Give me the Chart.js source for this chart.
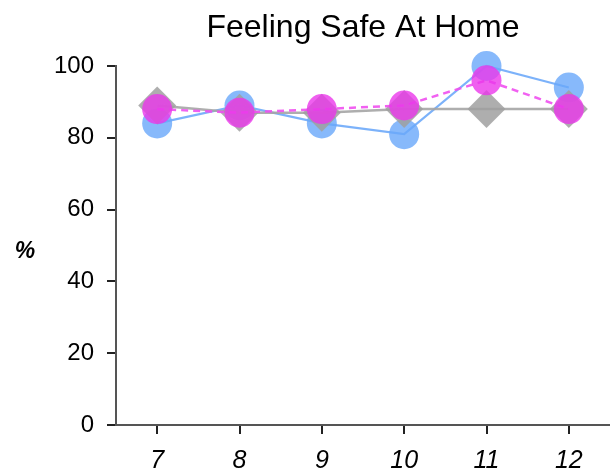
<!DOCTYPE html>
<html>
<head>
<meta charset="utf-8">
<script src="https://cdn.jsdelivr.net/npm/chart.js@4/dist/chart.umd.min.js"></script>
<style>
  html, body { margin: 0; padding: 0; background: #fff; }
  #wrap { width: 610px; height: 472px; }
</style>
</head>
<body>
<div id="wrap"><canvas id="c" width="610" height="472"></canvas></div>
<script>
const categories = ['7', '8', '9', '10', '11', '12'];
const blueValues = [84, 89, 84, 81, 100, 94];
const grayValues = [89, 87, 87, 88, 88, 88];
const magentaValues = [88, 87, 88, 89, 96, 88];
const yTicks = [0, 20, 40, 60, 80, 100];
const titleText = 'Feeling Safe At Home';
const yLabel = '%';

const FONT = '"Liberation Sans", Arial, Helvetica, sans-serif';

const yLabelPlugin = {
  id: 'yLabel',
  afterDraw(chart) {
    const ctx = chart.ctx;
    ctx.save();
    ctx.font = 'italic bold 23px ' + FONT;
    ctx.fillStyle = '#000';
    ctx.textAlign = 'center';
    ctx.textBaseline = 'middle';
    ctx.fillText(yLabel, 25, 252);
    ctx.restore();
  }
};

new Chart(document.getElementById('c'), {
  type: 'line',
  data: {
    labels: categories,
    datasets: [
      {
        label: 'blue',
        data: blueValues,
        borderColor: 'rgba(110,170,250,0.9)',
        backgroundColor: 'rgba(105,168,250,0.8)',
        borderWidth: 2.2,
        pointStyle: 'circle',
        pointRadius: 15,
        pointHoverRadius: 15,
        pointBorderWidth: 0,
        tension: 0,
        clip: false,
        order: 3
      },
      {
        label: 'gray',
        data: grayValues,
        borderColor: 'rgba(165,165,165,0.9)',
        backgroundColor: 'rgba(160,160,160,0.85)',
        borderWidth: 2.5,
        pointStyle: 'rectRot',
        pointRadius: 19,
        pointHoverRadius: 19,
        pointBorderWidth: 0,
        tension: 0,
        clip: false,
        order: 2
      },
      {
        label: 'magenta',
        data: magentaValues,
        borderColor: 'rgba(240,80,240,0.9)',
        backgroundColor: 'rgba(235,55,235,0.8)',
        borderWidth: 2.5,
        borderDash: [7, 5],
        pointStyle: 'circle',
        pointRadius: 15,
        pointHoverRadius: 15,
        pointBorderWidth: 0,
        tension: 0,
        clip: false,
        order: 1
      }
    ]
  },
  options: {
    responsive: false,
    animation: false,
    devicePixelRatio: 1,
    layout: { autoPadding: false, padding: { left: 0, right: 0, top: 0, bottom: 0 } },
    plugins: {
      legend: { display: false },
      tooltip: { enabled: false },
      title: {
        display: true,
        text: titleText,
        fullSize: false,
        color: '#000',
        font: { family: FONT, size: 32, weight: 'normal', lineHeight: 1.2 },
        padding: { top: 9, bottom: 18.6 }
      }
    },
    scales: {
      x: {
        type: 'category',
        offset: true,
        grid: {
          display: true,
          offset: false,
          drawOnChartArea: false,
          drawTicks: true,
          tickLength: 9,
          color: '#222',
          lineWidth: 2
        },
        border: { display: true, color: '#555', width: 2 },
        ticks: {
          color: '#000',
          font: { family: FONT, size: 25, style: 'italic' },
          padding: 12,
          maxRotation: 0
        },
        afterFit(scale) { scale.height = 47; }
      },
      y: {
        min: 0,
        max: 100,
        afterBuildTicks(scale) { scale.ticks = yTicks.map(v => ({ value: v })); },
        grid: {
          display: true,
          drawOnChartArea: false,
          drawTicks: true,
          tickLength: 9,
          color: '#222',
          lineWidth: 2
        },
        border: { display: true, color: '#555', width: 2 },
        ticks: {
          color: '#000',
          font: { family: FONT, size: 24 },
          padding: 13
        },
        afterFit(scale) { scale.width = 116; }
      }
    }
  },
  plugins: [yLabelPlugin]
});
</script>
</body>
</html>
